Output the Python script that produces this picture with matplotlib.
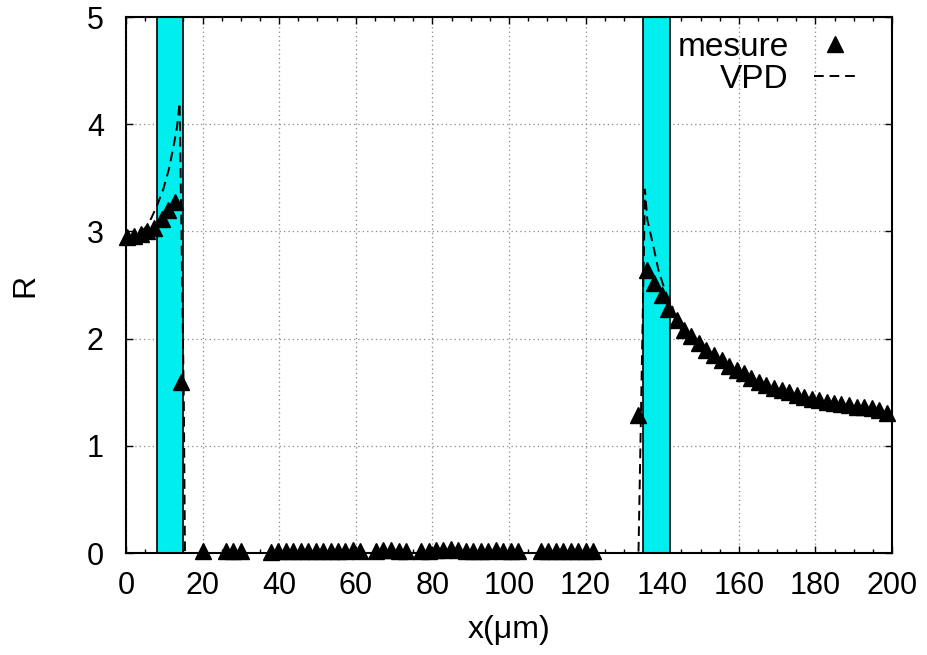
import numpy as np
import matplotlib.pyplot as plt

plt.rcParams['font.family'] = ['Liberation Sans', 'DejaVu Sans']

# bandes (zones en cyan)
bandes = [(8.0, 15.0), (135.0, 142.0)]

# mesures
x_mes_g = [0.2, 2.0, 3.8, 5.5, 7.2, 9.3, 11.0, 12.8, 14.4]
y_mes_g = [2.95, 2.96, 2.98, 3.00, 3.03, 3.12, 3.20, 3.27, 1.60]

x_mes_0 = [20.0, 26.1, 28.0, 29.9, 37.8, 39.7, 41.7, 43.6, 45.6, 47.5, 49.5,
           51.4, 53.4, 55.3, 57.3, 59.2, 61.2, 65.3, 67.2, 69.2, 71.2, 73.1,
           77.0, 79.0, 80.9, 82.8, 84.8, 86.8, 88.7, 90.6, 92.6, 94.5, 96.5,
           98.4, 100.4, 102.4, 108.3, 110.2, 112.2, 114.1, 116.1, 118.0,
           120.0, 121.9]
y_mes_0 = [0.02, 0.02, 0.02, 0.02, 0.01, 0.02, 0.02, 0.02, 0.02, 0.02, 0.02,
           0.02, 0.02, 0.02, 0.02, 0.03, 0.02, 0.02, 0.03, 0.03, 0.02, 0.02,
           0.02, 0.02, 0.03, 0.03, 0.04, 0.03, 0.02, 0.02, 0.02, 0.02, 0.03,
           0.02, 0.02, 0.02, 0.02, 0.02, 0.02, 0.02, 0.02, 0.02,
           0.02, 0.02]

x_mes_d = [133.8, 135.9, 137.9, 139.9, 141.6, 143.8, 145.7, 147.6, 149.6,
           151.5, 153.5, 155.5, 157.4, 159.4, 161.3, 163.3, 165.3, 167.2,
           169.2, 171.2, 173.1, 175.1, 177.0, 179.0, 180.9, 182.9, 184.9,
           186.8, 188.8, 190.8, 192.7, 194.7, 196.6, 198.6]
y_mes_d = [1.29, 2.64, 2.52, 2.41, 2.28, 2.17, 2.08, 2.02, 1.96, 1.89, 1.85,
           1.80, 1.74, 1.71, 1.68, 1.63, 1.60, 1.57, 1.54, 1.52, 1.50, 1.47,
           1.46, 1.44, 1.43, 1.41, 1.40, 1.39, 1.38, 1.36, 1.36, 1.35, 1.33,
           1.31]

x_mes = x_mes_g + x_mes_0 + x_mes_d
y_mes = y_mes_g + y_mes_0 + y_mes_d

# modèle VPD
x_vpd = [0.0, 2.0, 4.0, 5.5, 6.7, 8.2, 9.7, 11.2, 12.4, 13.3, 13.7, 14.0,
         15.1, 15.4, 133.8, 135.5, 136.1, 137.7, 139.0, 140.7, 142.5, 144.6,
         148.0, 152.0, 156.0, 160.0, 165.0, 170.0, 175.0, 180.0, 185.0,
         190.0, 195.0, 200.0]
y_vpd = [2.95, 2.97, 3.00, 3.05, 3.13, 3.25, 3.39, 3.58, 3.79, 3.97, 4.10,
         4.20, 1.43, 0.0, 0.0, 3.39, 3.11, 2.86, 2.64, 2.45, 2.31, 2.11,
         1.96, 1.84, 1.75, 1.68, 1.59, 1.52, 1.46, 1.42, 1.39, 1.36, 1.33,
         1.30]

fig = plt.figure(figsize=(9.27, 6.55), dpi=100)
ax = fig.add_axes([0.1359, 0.1557, 0.8264, 0.8183])

for a, b in bandes:
    ax.axvspan(a, b, facecolor='#00eeee', edgecolor='black', lw=1.2, zorder=1)

ax.plot(x_mes, y_mes, '^', color='black', ms=11.5, ls='none', label='mesure',
        clip_on=False, zorder=4)
ax.plot(x_vpd, y_vpd, color='black', lw=1.4, dashes=(5, 3), label='VPD',
        zorder=3)

ax.set_xlim(0, 200)
ax.set_ylim(0, 5)
ax.set_xticks(np.arange(0, 201, 20))
ax.set_xticks(np.arange(0, 201, 5), minor=True)
ax.set_yticks(np.arange(0, 6, 1))
ax.set_axisbelow(True)
ax.grid(True, which='major', color='#888888', ls=(0, (1, 2.5)), lw=0.9)

ax.tick_params(which='both', direction='in', top=True, right=True,
               labelsize=22, width=1)
ax.tick_params(which='major', length=5)
ax.tick_params(which='minor', length=3)
ax.tick_params(axis='x', pad=13)
ax.tick_params(axis='y', pad=16)
for s in ax.spines.values():
    s.set_linewidth(1.5)

ax.set_xlabel('x(μm)', fontsize=23, labelpad=10)
ax.set_ylabel('R', fontsize=23, labelpad=33)

ax.legend(loc='upper right', bbox_to_anchor=(0.972, 1.0), frameon=False,
          markerfirst=False, numpoints=1, fontsize=24, handlelength=1.25,
          handletextpad=0.75, labelspacing=0.02, borderaxespad=0.05)

plt.savefig('out.png', dpi=100)
